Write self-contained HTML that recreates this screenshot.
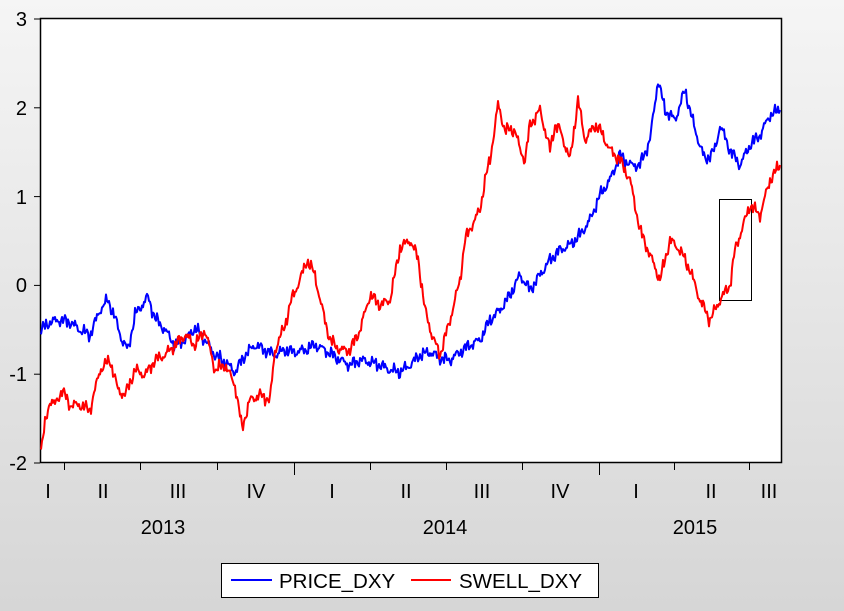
<!DOCTYPE html>
<html><head><meta charset="utf-8"><style>
html,body{margin:0;padding:0;}
body{width:844px;height:611px;overflow:hidden;background:linear-gradient(#f5f5f5,#d6d6d6);}
svg{display:block;font-family:"Liberation Sans",sans-serif;}
</style></head><body>
<svg id="s" width="844" height="611" xmlns="http://www.w3.org/2000/svg">
<rect x="40.5" y="18.5" width="741" height="444" fill="#fff" stroke="#000" stroke-width="1.5"/>
<g stroke="#000" stroke-width="1">
<line x1="34" y1="19" x2="40" y2="19"/><line x1="34" y1="107.8" x2="40" y2="107.8"/><line x1="34" y1="196.6" x2="40" y2="196.6"/><line x1="34" y1="285.4" x2="40" y2="285.4"/><line x1="34" y1="374.2" x2="40" y2="374.2"/><line x1="34" y1="463" x2="40" y2="463"/>
<line x1="64.5" y1="463" x2="64.5" y2="470"/><line x1="140.5" y1="463" x2="140.5" y2="470"/><line x1="217.5" y1="463" x2="217.5" y2="470"/><line x1="294.5" y1="463" x2="294.5" y2="475"/><line x1="370.5" y1="463" x2="370.5" y2="470"/><line x1="446.5" y1="463" x2="446.5" y2="470"/><line x1="522.5" y1="463" x2="522.5" y2="470"/><line x1="599.5" y1="463" x2="599.5" y2="475"/><line x1="674.5" y1="463" x2="674.5" y2="470"/><line x1="749.5" y1="463" x2="749.5" y2="470"/>
</g>
<g font-size="20" text-anchor="end" fill="#000">
<text x="27" y="26">3</text><text x="27" y="115">2</text><text x="27" y="204">1</text><text x="27" y="292">0</text><text x="27" y="381">-1</text><text x="27" y="470">-2</text>
</g>
<g font-size="20" text-anchor="middle" fill="#000">
<text x="48" y="498">I</text><text x="103" y="498">II</text><text x="178" y="498">III</text><text x="256" y="498">IV</text><text x="332" y="498">I</text><text x="406" y="498">II</text><text x="482" y="498">III</text><text x="560" y="498">IV</text><text x="636" y="498">I</text><text x="711" y="498">II</text><text x="769" y="498">III</text>
<text x="163" y="534">2013</text><text x="445" y="534">2014</text><text x="695" y="534">2015</text>
</g>
<rect x="719.5" y="199.5" width="32" height="101" fill="none" stroke="#000" stroke-width="1"/>
<rect x="221.5" y="563.5" width="377" height="34" fill="#fff" stroke="#000" stroke-width="1"/>
<line x1="231" y1="580" x2="272" y2="580" stroke="#0000ff" stroke-width="2"/>
<line x1="411" y1="580" x2="451" y2="580" stroke="#ff0000" stroke-width="2"/>
<g font-size="20.5" fill="#000"><text x="279" y="588">PRICE_DXY</text><text x="459" y="588">SWELL_DXY</text></g>
</svg>
<script>
var B=[41,330,50,322,60,320,70,322,80,330,90,335,100,310,108,300,115,318,122,340,128,350,135,315,142,305,148,297,155,318,165,330,175,345,185,340,195,328,205,340,215,355,225,362,235,372,245,355,255,345,265,350,275,355,285,350,295,352,305,350,315,345,325,350,340,360,350,365,360,360,370,362,380,365,390,370,400,372,410,365,420,355,430,352,440,358,450,360,460,352,470,345,480,340,490,320,500,310,510,295,520,275,530,290,540,275,550,260,560,250,570,245,580,235,590,220,600,195,610,180,620,155,630,165,640,165,650,140,658,80,665,110,675,120,685,90,695,130,705,160,715,150,720,125,730,150,740,165,750,145,760,135,770,115,780,110];
var R=[41,450,45,425,50,400,55,405,62,390,70,405,80,405,90,410,95,390,100,370,110,360,118,390,125,395,135,370,145,375,155,360,165,355,175,345,185,335,195,345,205,330,215,370,225,365,235,385,242,428,250,400,260,395,270,400,275,350,285,325,292,298,300,280,307,260,315,275,320,300,330,340,340,350,350,350,360,330,370,295,380,305,390,300,400,248,410,240,418,258,425,310,432,335,440,355,450,320,460,280,465,240,472,225,480,210,485,180,490,160,498,105,505,130,515,130,520,150,525,160,530,125,540,110,550,150,555,125,560,130,570,160,578,100,585,140,595,125,600,130,610,150,620,160,630,180,640,230,650,255,660,280,670,240,680,250,690,270,700,300,710,320,720,300,730,285,735,250,745,220,750,205,760,215,770,180,780,165];
function mk(a,col,seed){var d="";for(var i=0;i<a.length-2;i+=2){var x0=a[i],y0=a[i+1],x1=a[i+2],y1=a[i+3];for(var x=x0;x<x1;x+=1){var t=(x-x0)/(x1-x0);var n=Math.sin(x*1.7+seed)*2.5+Math.sin(x*4.3+seed*2)*2+Math.sin(x*0.61+seed*3)*3+Math.sin(x*9.1+seed)*1.5;var y=y0+(y1-y0)*t+n;d+=(d?"L":"M")+x.toFixed(1)+" "+y.toFixed(1);}}
d+="L"+a[a.length-2]+" "+a[a.length-1];
var p=document.createElementNS("http://www.w3.org/2000/svg","path");p.setAttribute("d",d);p.setAttribute("fill","none");p.setAttribute("stroke",col);p.setAttribute("stroke-width","2");p.setAttribute("stroke-linejoin","round");document.getElementById("s").appendChild(p);}
mk(B,"#0000ff",1);mk(R,"#ff0000",3);
</script>
</body></html>
